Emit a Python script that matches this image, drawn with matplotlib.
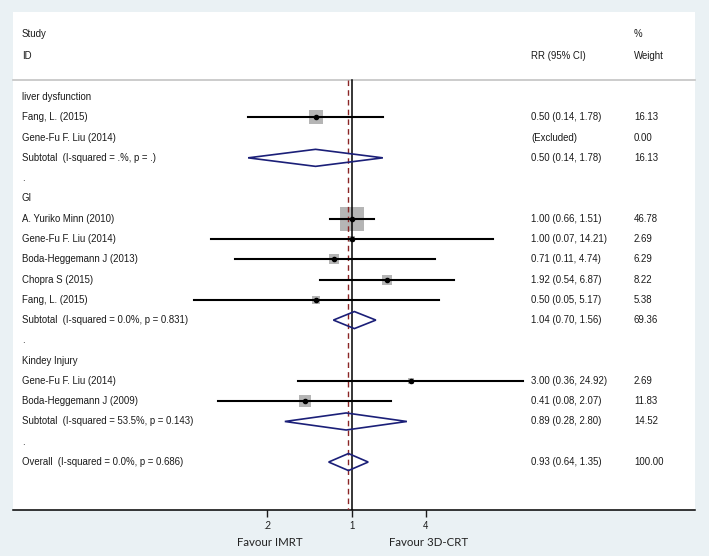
import numpy as np
import matplotlib
matplotlib.use("Agg")
from matplotlib import pyplot as plt
from matplotlib import transforms

# ---- data ----
labels = ["liver dysfunction", "Fang, L. (2015)", "Gene-Fu F. Liu (2014)",
          "Subtotal  (I-squared = .%, p = .)", ".",
          "GI", "A. Yuriko Minn (2010)", "Gene-Fu F. Liu (2014)",
          "Boda-Heggemann J (2013)", "Chopra S (2015)", "Fang, L. (2015)",
          "Subtotal  (I-squared = 0.0%, p = 0.831)", ".",
          "Kindey Injury", "Gene-Fu F. Liu (2014)", "Boda-Heggemann J (2009)",
          "Subtotal  (I-squared = 53.5%, p = 0.143)", ".",
          "Overall  (I-squared = 0.0%, p = 0.686)"]
kinds = ["head", "study", "excl", "sub", "gap",
         "head", "study", "study", "study", "study", "study", "sub", "gap",
         "head", "study", "study", "sub", "gap",
         "sub"]
nan = np.nan
rr = [nan, 0.50, nan, 0.50, nan,
      nan, 1.00, 1.00, 0.71, 1.92, 0.50, 1.04, nan,
      nan, 3.00, 0.41, 0.89, nan,
      0.93]
lo = [nan, 0.14, nan, 0.14, nan,
      nan, 0.66, 0.07, 0.11, 0.54, 0.05, 0.70, nan,
      nan, 0.36, 0.08, 0.28, nan,
      0.64]
hi = [nan, 1.78, nan, 1.78, nan,
      nan, 1.51, 14.21, 4.74, 6.87, 5.17, 1.56, nan,
      nan, 24.92, 2.07, 2.80, nan,
      1.35]
weight = [nan, 16.13, 0.00, 16.13, nan,
          nan, 46.78, 2.69, 6.29, 8.22, 5.38, 69.36, nan,
          nan, 2.69, 11.83, 14.52, nan,
          100.00]
tick_vals = [0.2, 1, 4]
tick_text = [".2", "1", "4"]

# ---- layout (pixels of a 709x556 image) ----
W, H = 709, 556
fig = plt.figure(figsize=(W / 100, H / 100), dpi=100, facecolor="#eaf1f4")
left_px, right_px, top_px, bot_px = 13, 695, 12, 510
ax = fig.add_axes([left_px / W, 1 - bot_px / H, (right_px - left_px) / W, (bot_px - top_px) / H])
ax.set_facecolor("white")

px_per_ln = 53.0
one_px = 352.3
ax.set_xscale("log")
ax.set_xlim(np.exp((left_px - one_px) / px_per_ln), np.exp((right_px - one_px) / px_per_ln))

row0_px, row_h = 97.0, 20.28
ax.set_ylim((bot_px - row0_px) / row_h, (top_px - row0_px) / row_h)

font = "Liberation Sans"
fs = 6.9
txtc = "#1a1a1a"
blend = transforms.blended_transform_factory(ax.transAxes, ax.transData)
x_lab, x_ci, x_w = (22 - left_px) / 682, (531 - left_px) / 682, (634 - left_px) / 682

# header
y_study, y_id, y_line = (34 - row0_px) / row_h, (56 - row0_px) / row_h, (80 - row0_px) / row_h
for x, y, s in [(x_lab, y_study, "Study"), (x_lab, y_id, "ID"), (x_ci, y_id, "RR (95% CI)"),
                (x_w, y_study, "%"), (x_w, y_id, "Weight")]:
    ax.text(x, y, s, transform=blend, fontsize=fs, family=font, color=txtc, va="center")
ax.plot([0, 1], [y_line, y_line], transform=blend, color="#c4c4c4", lw=1.2, clip_on=False)

# reference lines
ybot = ax.get_ylim()[0]
ax.plot([1, 1], [y_line, ybot], color="black", lw=1.1, zorder=3)
ax.plot([rr[-1], rr[-1]], [y_line, ybot], color="#8b2525", lw=1.0, ls=(0, (4, 3)), zorder=3)

navy = "#1b1f78"
for i, (lab, k) in enumerate(zip(labels, kinds)):
    ax.text(x_lab, i, lab, transform=blend, fontsize=fs, family=font, color=txtc, va="center")
    if k == "excl":
        ax.text(x_ci, i, "(Excluded)", transform=blend, fontsize=fs, family=font, color=txtc, va="center")
        ax.text(x_w, i, f"{weight[i]:.2f}", transform=blend, fontsize=fs, family=font, color=txtc, va="center")
    if k in ("study", "sub"):
        ax.text(x_ci, i, f"{rr[i]:.2f} ({lo[i]:.2f}, {hi[i]:.2f})", transform=blend,
                fontsize=fs, family=font, color=txtc, va="center")
        ax.text(x_w, i, f"{weight[i]:.2f}", transform=blend, fontsize=fs, family=font, color=txtc, va="center")
    if k == "study":
        ax.scatter([rr[i]], [i], s=6.9 * weight[i], marker="s", color="#b5b5b5", lw=0, zorder=2)
        ax.plot([lo[i], hi[i]], [i, i], color="black", lw=1.5, zorder=4)
        ax.plot([rr[i]], [i], "o", color="black", ms=3, zorder=5)
    if k == "sub":
        h = 0.42
        ax.fill([lo[i], rr[i], hi[i], rr[i]], [i, i - h, i, i + h], fill=False,
                edgecolor=navy, lw=1.2, zorder=4)

# x axis
for s in ["top", "left", "right"]:
    ax.spines[s].set_visible(False)
ax.spines["bottom"].set_linewidth(1.1)
ax.set_yticks([])
ax.set_xticks(tick_vals)
ax.set_xticklabels(tick_text)
ax.xaxis.set_minor_locator(matplotlib.ticker.NullLocator())
ax.tick_params(axis="x", length=5, width=1.0, pad=3, labelsize=fs, colors=txtc)
for t in ax.get_xticklabels():
    t.set_family(font)

fig.text(270 / W, 1 - 543 / H, "Favour IMRT", ha="center", va="center", fontsize=8.3, family="Lato", color="#222222")
fig.text(429 / W, 1 - 543 / H, "Favour 3D-CRT", ha="center", va="center", fontsize=8.3, family="Lato", color="#222222")

fig.savefig("out.png", dpi=100, facecolor=fig.get_facecolor())
